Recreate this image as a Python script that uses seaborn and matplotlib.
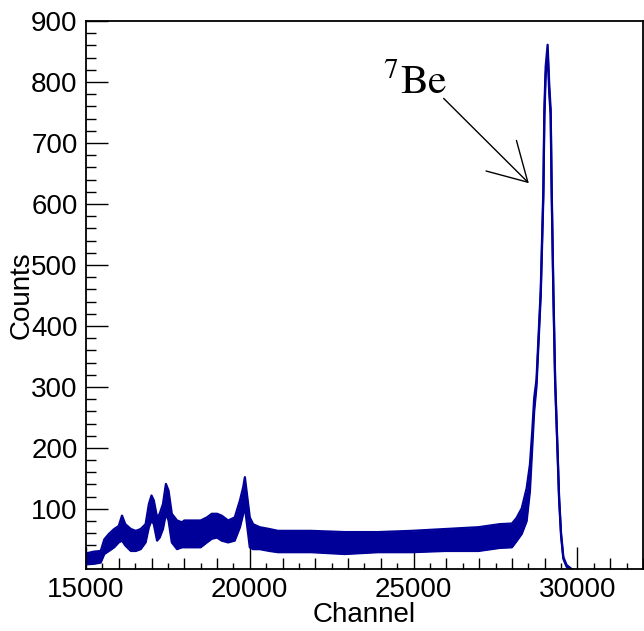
import numpy as np
import pandas as pd
import matplotlib
matplotlib.use('Agg')
import matplotlib.pyplot as plt
from matplotlib.ticker import MultipleLocator
import seaborn as sns

# channel positions and the lower / upper edge of the noisy spectrum band
channel = [15000, 15250, 15450, 15560, 15700, 15860, 16000, 16100, 16200, 16370,
           16520, 16670, 16820, 16920, 17000, 17070, 17170, 17250, 17350, 17440,
           17520, 17620, 17780, 17930, 18000, 18280, 18500, 18690, 18840, 19000,
           19140, 19340, 19540, 19700, 19800, 19850, 19900, 20000, 20100, 20300,
           20600, 20860, 21870, 22900, 23920, 24940, 25960, 26980, 27630, 28000,
           28140, 28300, 28450, 28550, 28620, 28680, 28750, 28880, 28960, 28990,
           29030, 29090, 29140, 29183, 29214, 29265, 29320, 29390, 29440, 29500,
           29570, 29670, 29830, 29900]
counts_lo = [9, 10, 12, 26, 31, 37, 45, 48, 40, 31,
             31, 34, 45, 70, 81, 75, 48, 53, 67, 92,
             81, 45, 34, 37, 37, 37, 37, 45, 51, 53,
             48, 45, 48, 70, 92, 103, 81, 37, 34, 34,
             31, 29, 29, 26, 29, 29, 31, 31, 36, 37,
             47, 59, 80, 129, 200, 260, 300, 450, 612, 740,
             810, 850, 780, 745, 615, 452, 305, 196, 115, 56,
             18, 5, 0, 0]
counts_hi = [27, 30, 31, 50, 59, 67, 72, 89, 75, 67,
             64, 67, 75, 108, 122, 114, 86, 92, 108, 141,
             130, 92, 81, 78, 81, 81, 81, 86, 92, 92,
             89, 81, 86, 114, 136, 152, 130, 86, 75, 70,
             67, 64, 64, 62, 62, 64, 67, 70, 75, 76,
             85, 101, 134, 173, 227, 282, 312, 460, 625, 755,
             825, 861, 795, 755, 625, 460, 312, 202, 120, 60,
             21, 8, 1, 0]

df = pd.DataFrame({'channel': channel, 'lo': counts_lo, 'hi': counts_hi})
blue = '#000099'

sns.set_style('ticks')
plt.rcParams['font.family'] = ['Liberation Sans', 'DejaVu Sans']
plt.rcParams['mathtext.fontset'] = 'stix'
plt.rcParams['text.color'] = 'black'
plt.rcParams['axes.labelcolor'] = 'black'
plt.rcParams['xtick.color'] = 'black'
plt.rcParams['ytick.color'] = 'black'
plt.rcParams['axes.edgecolor'] = 'black'

fig = plt.figure(figsize=(6.44, 6.31), dpi=100)
ax = fig.add_axes([0.1335, 0.0983, 0.8649, 0.8685])

ax.fill_between(df['channel'], df['lo'], df['hi'], color=blue, lw=0)
sns.lineplot(data=df, x='channel', y='lo', color=blue, lw=1.6, ax=ax)
sns.lineplot(data=df, x='channel', y='hi', color=blue, lw=1.6, ax=ax)

ax.set_xlim(15000, 32000)
ax.set_ylim(1.5, 900)

ax.xaxis.set_major_locator(MultipleLocator(5000))
ax.xaxis.set_minor_locator(MultipleLocator(500))
ax.yaxis.set_major_locator(MultipleLocator(100))
ax.yaxis.set_minor_locator(MultipleLocator(20))
ax.tick_params(which='both', direction='in', top=False, right=False, labelsize=20, width=1)
ax.tick_params(which='major', length=16, pad=6)
ax.tick_params(which='minor', length=7)
ax.set_yticks([100, 200, 300, 400, 500, 600, 700, 800, 900])
for sp in ax.spines.values():
    sp.set_linewidth(1.3)
    sp.set_visible(True)

ax.set_xlabel('Channel', fontsize=20)
ax.set_ylabel('Counts', fontsize=20)
ax.xaxis.set_label_coords(0.5, -0.06)
ax.yaxis.set_label_coords(-0.092, 0.5)

# 7Be label and arrow
ax.text(24080, 780, r'$^{7}\mathrm{Be}$', fontsize=30, ha='left', va='baseline')
ax.annotate('', xy=(28516, 634), xytext=(25917, 773),
            arrowprops=dict(arrowstyle='->,head_length=27,head_width=15.5', mutation_scale=1,
                            color='black', lw=1, shrinkA=0, shrinkB=0))

# ROOT style: x minor ticks at every 1000 a bit longer than those at 500
fig.canvas.draw()
for loc, tick in zip(ax.xaxis.get_minorticklocs(), ax.xaxis.get_minor_ticks()):
    tick.tick1line.set_markersize(8 if loc % 1000 == 0 else 4)

fig.savefig('out.png', dpi=100)
